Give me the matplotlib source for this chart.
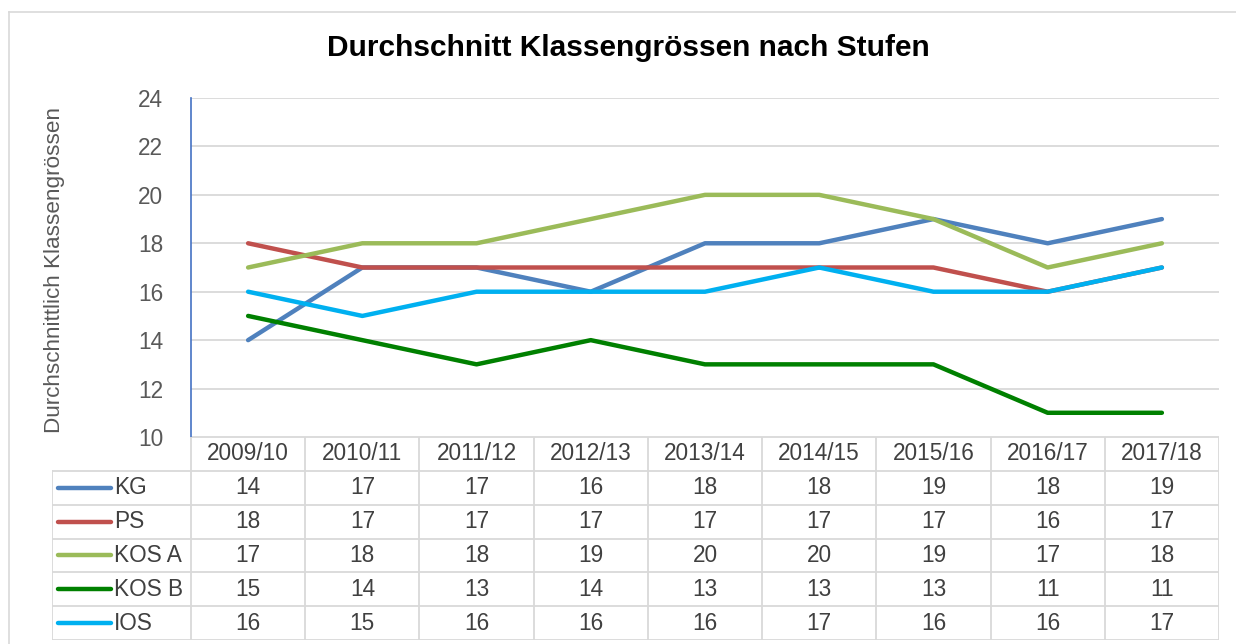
import matplotlib
matplotlib.use("Agg")
import matplotlib.pyplot as plt
from matplotlib.lines import Line2D

plt.rcParams['font.family'] = ['Liberation Sans', 'DejaVu Sans']

years = ["2009/10", "2010/11", "2011/12", "2012/13", "2013/14",
         "2014/15", "2015/16", "2016/17", "2017/18"]
series_names = ["KG", "PS", "KOS A", "KOS B", "IOS"]
kg = [14, 17, 17, 16, 18, 18, 19, 18, 19]
ps = [18, 17, 17, 17, 17, 17, 17, 16, 17]
kos_a = [17, 18, 18, 19, 20, 20, 19, 17, 18]
kos_b = [15, 14, 13, 14, 13, 13, 13, 11, 11]
ios = [16, 15, 16, 16, 16, 17, 16, 16, 17]
series_values = [kg, ps, kos_a, kos_b, ios]
colors = ["#4F81BD", "#C0504D", "#9BBB59", "#008000", "#00B0F0"]
yticks = [10, 12, 14, 16, 18, 20, 22, 24]
title = "Durchschnitt Klassengrössen nach Stufen"
ylabel = "Durchschnittlich Klassengrössen"

W, H = 1236, 644
fig = plt.figure(figsize=(W / 100, H / 100), dpi=100)
fig.patch.set_facecolor("white")

def fx(px):
    return px / W

def fy(py):
    return 1 - py / H

FS = 16.3

# outer chart border
fig.add_artist(Line2D([fx(9), 1.0], [fy(12), fy(12)], color="#d9d9d9", lw=1.2))
fig.add_artist(Line2D([fx(9), fx(9)], [fy(12), 0.0], color="#d9d9d9", lw=1.2))

L, R, T, B = 191, 1219, 98, 437
ax = fig.add_axes([fx(L), fy(B), fx(R - L), (B - T) / H])
n = len(years)
xs = list(range(n))
for vals, c in zip(series_values, colors):
    ax.plot(xs, vals, color=c, lw=3.2, solid_capstyle="round", zorder=3)
ax.set_xlim(-0.5, n - 0.5)
ax.set_ylim(10, 24)
ax.set_yticks(yticks)
ax.set_xticks([])
ax.yaxis.grid(True, color="#d9d9d9", lw=1.3)
ax.set_axisbelow(True)
for s in ["top", "right", "bottom"]:
    ax.spines[s].set_visible(False)
ax.spines["left"].set_color("#4472C4")
ax.spines["left"].set_linewidth(1.2)
ax.tick_params(axis="y", length=0, pad=20, labelsize=FS, labelcolor="#595959")
ax.set_facecolor("none")

fig.text(fx(628), fy(48), title, ha="center", va="center",
         fontsize=21.5, fontweight="bold", color="black")
fig.text(fx(55), fy(270), ylabel, ha="center", va="center", rotation=90,
         fontsize=16.2, color="#595959")

# data table
TL, TB = 52, 640
colw = (R - L) / n
legw = (L - TL) / colw
tax = fig.add_axes([fx(TL), fy(TB), fx(R - TL), (TB - B) / H])
tax.set_xlim(-0.5 - legw, n - 0.5)
tax.set_ylim(len(series_names) + 1, 0)
tax.axis("off")
gc = "#d9d9d9"
glw = 1.3
tax.plot([-0.5, n - 0.5], [0, 0], color=gc, lw=glw)
for r in range(1, len(series_names) + 2):
    tax.plot([-0.5 - legw, n - 0.5], [r, r], color=gc, lw=glw)
for i in range(n + 1):
    tax.plot([i - 0.5, i - 0.5], [0, len(series_names) + 1], color=gc, lw=glw)
tax.plot([-0.5 - legw, -0.5 - legw], [1, len(series_names) + 1], color=gc, lw=glw)

for i, y in enumerate(years):
    tax.text(i, 0.5, y, ha="center", va="center", fontsize=FS, color="#404040")
for r, (name, vals, c) in enumerate(zip(series_names, series_values, colors), start=1):
    x0 = -0.5 - legw + 6 / colw
    x1 = x0 + 53 / colw
    tax.plot([x0, x1], [r + 0.5, r + 0.5], color=c, lw=3.2, solid_capstyle="round")
    tax.text(x1 + 3 / colw, r + 0.5, name, ha="left", va="center",
             fontsize=FS, color="#404040")
    for i, v in enumerate(vals):
        tax.text(i, r + 0.5, str(v), ha="center", va="center",
                 fontsize=FS, color="#404040")

fig.savefig("out.png", dpi=100, facecolor="white")
